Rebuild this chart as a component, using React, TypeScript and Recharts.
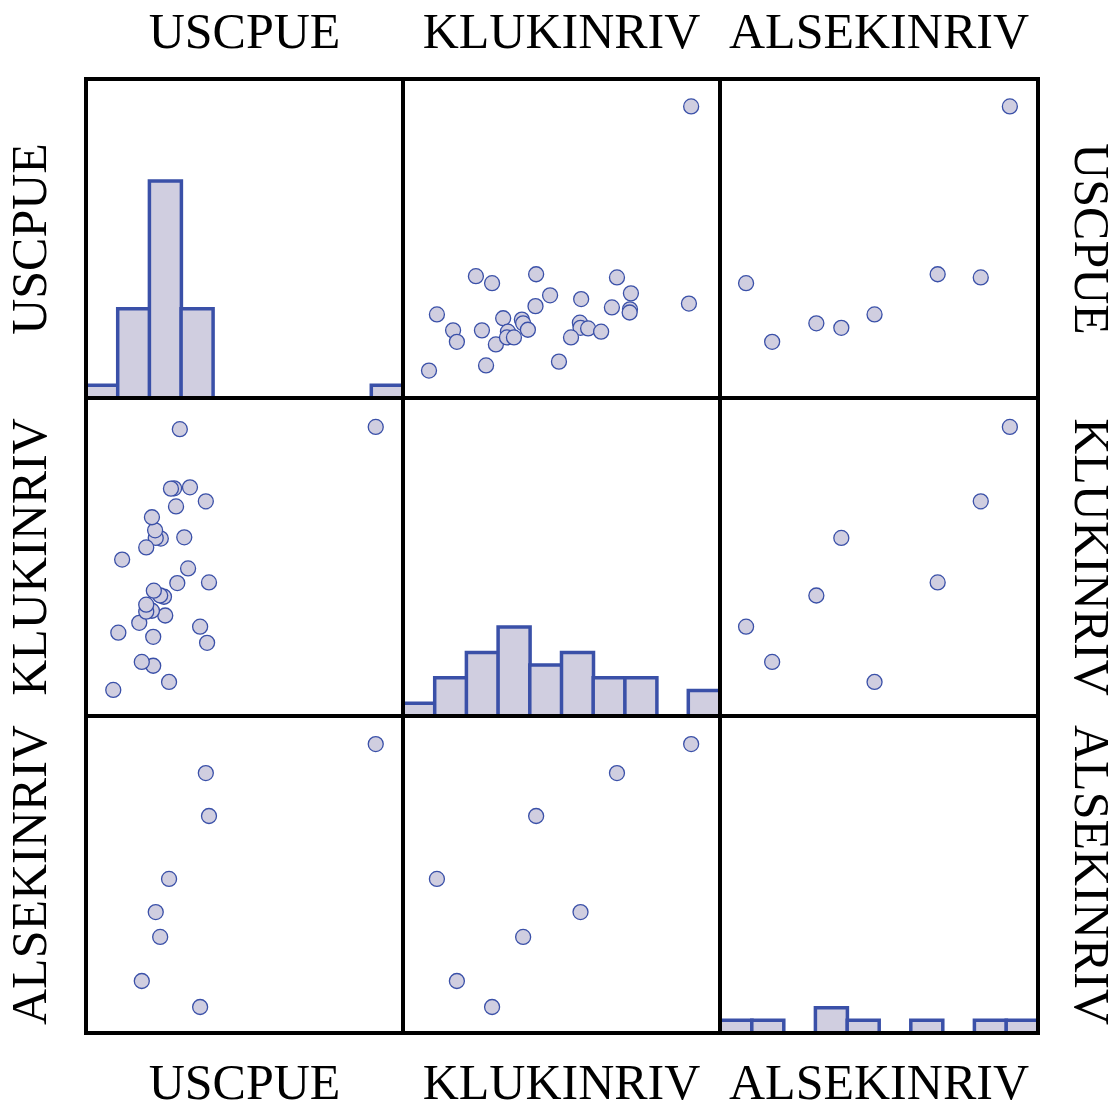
import React from "react";
import { ScatterChart, Scatter, BarChart, Bar, XAxis, YAxis } from "recharts";

const VARIABLES = ["USCPUE", "KLUKINRIV", "ALSEKINRIV"];

// one entry per year; ALSEKINRIV is only counted in some years
const USCPUE = [
  4.57, 1.48, 1.31, 1.06, 0.88, 0.43, 1.91, 1.8, 1.06, 0.84, 0.51, 1.25, 1.23,
  1.17, 1.07, 1.04, 0.95, 0.95, 1.94, 1.61, 1.44, 0.57, 1.55, 1.18, 1.1, 1.09,
  0.95, 1.89, 1.42, 1.04, 1.64, 1.39, 1.34,
];
const KLUKINRIV = [
  9090, 9020, 1070, 1580, 1700, 820, 2300, 2810, 2490, 2930, 2620, 3160, 3750,
  3790, 3940, 3310, 3280, 3500, 4200, 4640, 4180, 4920, 5620, 5580, 5600, 5840,
  5300, 6750, 6590, 6250, 7190, 7160, 7150,
];
const ALSEKINRIV: (number | null)[] = [
  18230, null, 9720, null, 3280, null, null, 1640, null, null, null, null, null,
  6060, null, null, null, null, 13690, null, null, null, null, null, 7630, null,
  null, 16400, null, null, null, null, null,
];

// histogram breaks per variable: first break and bin width, 10 bins each
const BREAK_START = [0, 0, 0];
const BIN_WIDTH = [0.5, 1000, 2000];
const BIN_COUNT = 10;
const HIST_MAX = 25;

const COLUMNS: (number | null)[][] = [USCPUE, KLUKINRIV, ALSEKINRIV];

const FILL = "#d0cee0";
const STROKE = "#3a50a8";
const EDGES_X = [86, 403, 720, 1038];
const EDGES_Y = [79, 398, 716, 1033];
const FONT = "'Liberation Serif', 'Times New Roman', serif";

function histogram(values: (number | null)[], start: number, width: number) {
  const counts = new Array(BIN_COUNT).fill(0);
  values.forEach((v) => {
    if (v == null) return;
    let i = Math.floor((v - start) / width);
    if (i >= BIN_COUNT) i = BIN_COUNT - 1;
    counts[i] += 1;
  });
  return counts.map((count, i) => ({ bin: start + (i + 0.5) * width, count }));
}

const Dot = (p: any) => (
  <circle cx={p.cx} cy={p.cy} r={7.5} fill={FILL} stroke={STROKE} strokeWidth={1.3} />
);

function Panel({ row, col }: { row: number; col: number }) {
  const w = EDGES_X[col + 1] - EDGES_X[col];
  const h = EDGES_Y[row + 1] - EDGES_Y[row];
  const margin = { top: 0, right: 0, bottom: 0, left: 0 };
  const style: React.CSSProperties = {
    position: "absolute",
    left: EDGES_X[col],
    top: EDGES_Y[row],
  };

  if (row === col) {
    const bins = histogram(COLUMNS[col], BREAK_START[col], BIN_WIDTH[col]);
    return (
      <div style={style}>
        <BarChart width={w} height={h} data={bins} margin={margin} barCategoryGap={0} barGap={0}>
          <XAxis dataKey="bin" hide />
          <YAxis hide domain={[0, HIST_MAX]} />
          <Bar dataKey="count" fill={FILL} stroke={STROKE} strokeWidth={3.5} isAnimationActive={false} />
        </BarChart>
      </div>
    );
  }

  const xs = COLUMNS[col];
  const ys = COLUMNS[row];
  const points = xs
    .map((x, i) => ({ x, y: ys[i] }))
    .filter((p) => p.x != null && p.y != null);
  const domX = [BREAK_START[col], BREAK_START[col] + BIN_WIDTH[col] * BIN_COUNT];
  const domY = [BREAK_START[row], BREAK_START[row] + BIN_WIDTH[row] * BIN_COUNT];

  return (
    <div style={style}>
      <ScatterChart width={w} height={h} margin={margin}>
        <XAxis type="number" dataKey="x" domain={domX} hide />
        <YAxis type="number" dataKey="y" domain={domY} hide />
        <Scatter data={points} shape={Dot} isAnimationActive={false} />
      </ScatterChart>
    </div>
  );
}

// line-height below 1 keeps the box tight around the capitals
function Label({ text, x, y, rotate }: { text: string; x: number; y: number; rotate: number }) {
  return (
    <div
      style={{
        position: "absolute",
        left: x,
        top: y,
        transform: `translate(-50%, -50%) rotate(${rotate}deg)`,
        fontFamily: FONT,
        fontSize: 50,
        lineHeight: 0.7,
        whiteSpace: "nowrap",
        color: "#000",
      }}
    >
      {text}
    </div>
  );
}

export default function App() {
  const cells = [];
  for (let r = 0; r < 3; r++) {
    for (let c = 0; c < 3; c++) cells.push(<Panel key={`${r}-${c}`} row={r} col={c} />);
  }
  const centersX = [0, 1, 2].map((i) => (EDGES_X[i] + EDGES_X[i + 1]) / 2);
  const centersY = [0, 1, 2].map((i) => (EDGES_Y[i] + EDGES_Y[i + 1]) / 2);

  return (
    <div style={{ position: "absolute", left: 0, top: 0, width: 1120, height: 1110, background: "#fff" }}>
      {cells}
      <svg width={1120} height={1110} style={{ position: "absolute", left: 0, top: 0, pointerEvents: "none" }}>
        {EDGES_X.map((x) => (
          <line key={`v${x}`} x1={x} x2={x} y1={EDGES_Y[0] - 2} y2={EDGES_Y[3] + 2} stroke="#000" strokeWidth={4} />
        ))}
        {EDGES_Y.map((y) => (
          <line key={`h${y}`} x1={EDGES_X[0] - 2} x2={EDGES_X[3] + 2} y1={y} y2={y} stroke="#000" strokeWidth={4} />
        ))}
      </svg>
      {VARIABLES.map((name, i) => (
        <React.Fragment key={name}>
          <Label text={name} x={centersX[i]} y={31} rotate={0} />
          <Label text={name} x={centersX[i]} y={1082} rotate={0} />
          <Label text={name} x={29} y={centersY[i]} rotate={-90} />
          <Label text={name} x={1091} y={centersY[i]} rotate={90} />
        </React.Fragment>
      ))}
    </div>
  );
}
